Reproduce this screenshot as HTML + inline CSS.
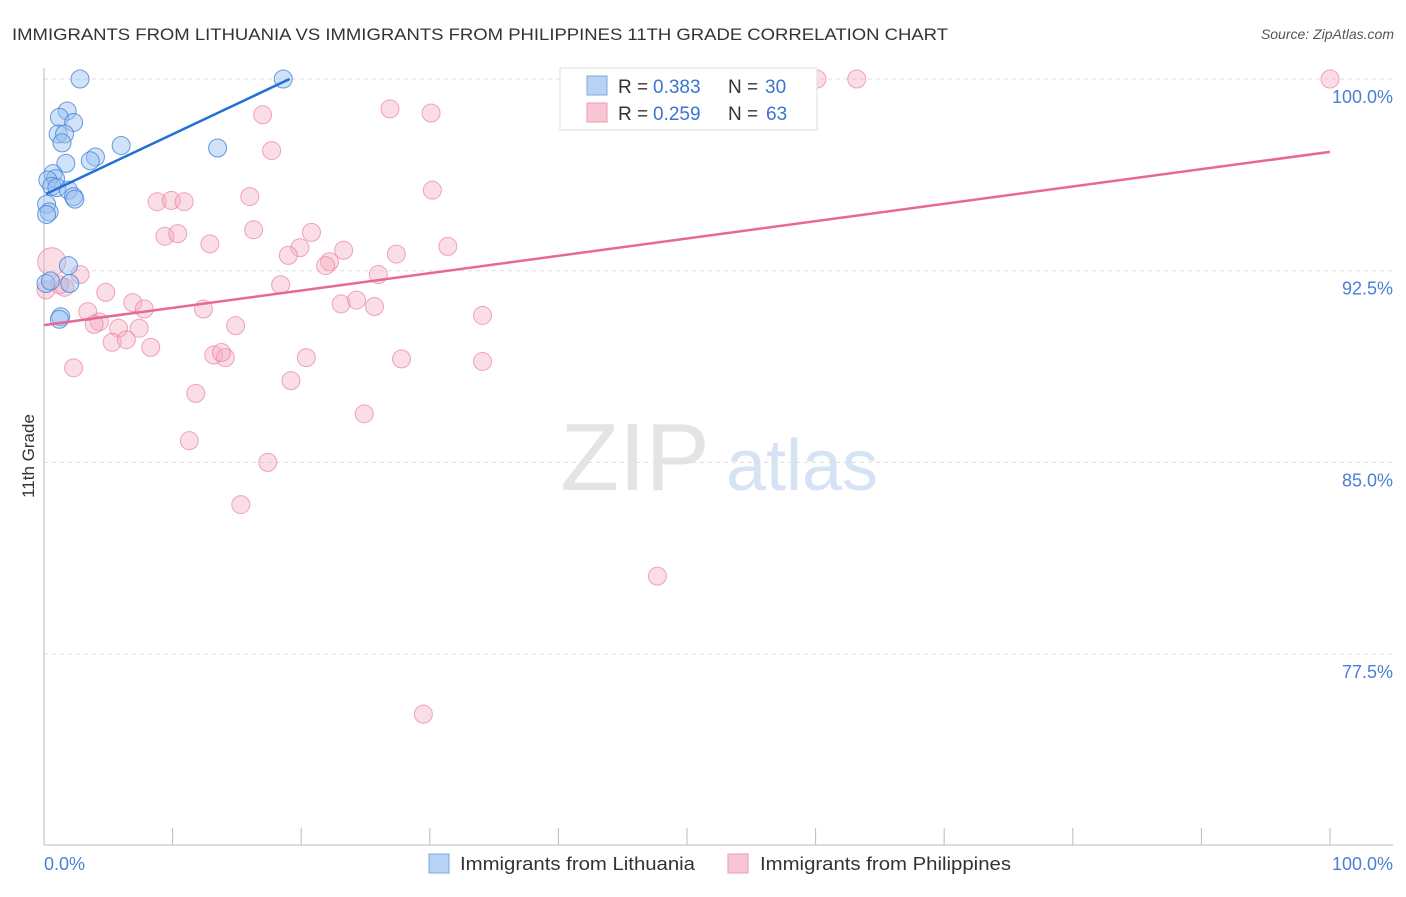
<!DOCTYPE html>
<html><head><meta charset="utf-8"><style>
body{margin:0;background:#fff;font-family:"Liberation Sans",sans-serif;}
svg text{font-family:"Liberation Sans",sans-serif;}
</style></head><body>
<svg id="chart" width="1406" height="892">
<text x="12" y="40" font-size="17" fill="#333" textLength="936" lengthAdjust="spacingAndGlyphs">IMMIGRANTS FROM LITHUANIA VS IMMIGRANTS FROM PHILIPPINES 11TH GRADE CORRELATION CHART</text>
<text x="1394" y="39" font-size="14" fill="#555" text-anchor="end" font-style="italic">Source: ZipAtlas.com</text>
<text x="635" y="490" font-size="96" fill="#e4e4e4" text-anchor="middle" font-family="Liberation Serif">ZIP</text>
<text x="802" y="490" font-size="72" fill="#d5e3f5" text-anchor="middle">atlas</text>
<text transform="translate(34,456) rotate(-90)" font-size="17" fill="#333" text-anchor="middle">11th Grade</text>
<g id="grid"></g><g id="pts"></g><g id="trend"></g>
<g>
<rect x="560" y="68" width="257" height="62" fill="#fff" stroke="#ddd"/>
<rect x="587" y="76" width="20" height="19" fill="#b7d2f5" stroke="#7fa8e0"/>
<rect x="587" y="103" width="20" height="19" fill="#f9c6d4" stroke="#eb9bb4"/>
<text x="618" y="93" font-size="19" fill="#333">R =</text>
<text x="653" y="93" font-size="19" fill="#3a74d0">0.383</text>
<text x="728" y="93" font-size="19" fill="#333">N =</text>
<text x="765" y="93" font-size="19" fill="#3a74d0">30</text>
<text x="618" y="120" font-size="19" fill="#333">R =</text>
<text x="653" y="120" font-size="19" fill="#3a74d0">0.259</text>
<text x="728" y="120" font-size="19" fill="#333">N =</text>
<text x="766" y="120" font-size="19" fill="#3a74d0">63</text>
</g>
<g>
<rect x="429" y="854" width="20" height="19" fill="#b7d2f5" stroke="#7fa8e0"/>
<text x="460" y="870" font-size="18" fill="#333" textLength="235" lengthAdjust="spacingAndGlyphs">Immigrants from Lithuania</text>
<rect x="728" y="854" width="20" height="19" fill="#f9c6d4" stroke="#eb9bb4"/>
<text x="760" y="870" font-size="18" fill="#333" textLength="251" lengthAdjust="spacingAndGlyphs">Immigrants from Philippines</text>
</g>
<text x="44" y="870" font-size="18" fill="#4a7fd4">0.0%</text>
<text x="1393" y="870" font-size="18" fill="#4a7fd4" text-anchor="end">100.0%</text>
</svg>
<script>
const yTicks=[100,92.5,85,77.5];
const yTickLabels=["100.0%","92.5%","85.0%","77.5%"];
const xTicks=[0,10,20,30,40,50,60,70,80,90,100];
const blueX=[2.8,18.6,1.8,1.2,2.3,1.1,1.6,1.4,6.0,13.5,4.0,3.6,1.7,0.7,0.9,0.3,0.6,1.0,1.9,2.3,2.4,0.2,0.4,0.2,1.9,2.0,0.15,1.3,1.2,0.5];
const blueY=[100,100,98.75,98.5,98.3,97.85,97.85,97.5,97.4,97.3,96.95,96.8,96.7,96.3,96.1,96.05,95.8,95.75,95.65,95.4,95.3,95.1,94.8,94.7,92.7,92.0,92.0,90.7,90.6,92.1];
const pinkX=[60.1,63.2,100,26.9,30.1,17.0,17.7,30.2,16.0,8.8,9.9,10.9,9.4,10.4,16.3,12.9,20.8,31.4,19.9,23.3,19.0,27.4,22.2,21.9,0.6,2.8,26.0,18.4,1.6,23.1,24.3,25.7,6.9,7.8,12.4,34.1,4.8,3.4,4.3,3.9,5.8,7.4,14.9,5.3,6.4,8.3,13.2,14.1,13.8,20.4,27.8,34.1,2.3,19.2,11.8,24.9,11.3,17.4,15.3,47.7,29.5,1.2,0.15];
const pinkY=[100,100,100,98.83,98.67,98.6,97.2,95.65,95.4,95.2,95.25,95.2,93.85,93.95,94.1,93.55,94.0,93.45,93.4,93.3,93.1,93.15,92.85,92.7,92.85,92.35,92.35,91.95,91.85,91.2,91.35,91.1,91.25,91.0,91.0,90.75,91.65,90.9,90.5,90.4,90.25,90.25,90.35,89.7,89.8,89.5,89.2,89.1,89.3,89.1,89.05,88.95,88.7,88.2,87.7,86.9,85.85,85.0,83.35,80.55,75.15,91.95,91.75];
const blueTrendX=[0.15,19.1], blueTrendY=[95.5,100];
const pinkTrendX=[0,100], pinkTrendY=[90.37,97.15];
const X=v=>44+v*12.86, Y=v=>79+(100-v)*25.56;
const NS="http://www.w3.org/2000/svg";
function mk(t,a,p){const e=document.createElementNS(NS,t);for(const k in a)e.setAttribute(k,a[k]);p.appendChild(e);return e;}
const g=document.getElementById('grid');
yTicks.forEach((v,i)=>{
 const l=mk('line',{x1:44,x2:1393,y1:Y(v),y2:Y(v),stroke:'#ddd','stroke-dasharray':'4,4'},g);
 
 
 const t=mk('text',{x:1393,y:Y(v)+24,'font-size':18,fill:'#4a7fd4','text-anchor':'end'},g);
 t.textContent=yTickLabels[i];
 
 
});
const ax=mk('line',{x1:44,x2:44,y1:68,y2:845,stroke:'#bbb'},g);


const bx=mk('line',{x1:44,x2:1393,y1:845,y2:845,stroke:'#bbb'},g);


xTicks.forEach(v=>{
 const l=mk('line',{x1:X(v),x2:X(v),y1:828,y2:845,stroke:'#bbb'},g);
 
 
});
const p=document.getElementById('pts');
pinkX.forEach((v,i)=>{
 const c=mk('circle',{cx:X(v),cy:Y(pinkY[i]),r:(i==24?14:9),fill:'rgba(245,170,192,0.4)',stroke:'rgba(232,130,160,0.7)','stroke-width':1},p);
 
 
});
blueX.forEach((v,i)=>{
 const c=mk('circle',{cx:X(v),cy:Y(blueY[i]),r:9,fill:'rgba(150,190,240,0.45)',stroke:'rgba(70,130,215,0.8)','stroke-width':1},p);
 
 
});
const tr=document.getElementById('trend');
const bl=mk('line',{x1:X(blueTrendX[0]),y1:Y(blueTrendY[0]),x2:X(blueTrendX[1]),y2:Y(blueTrendY[1]),stroke:'#2170d8','stroke-width':2.5},tr);


const pl=mk('line',{x1:X(pinkTrendX[0]),y1:Y(pinkTrendY[0]),x2:X(pinkTrendX[1]),y2:Y(pinkTrendY[1]),stroke:'#e8679a','stroke-width':2.5},tr);


</script>
</body></html>
